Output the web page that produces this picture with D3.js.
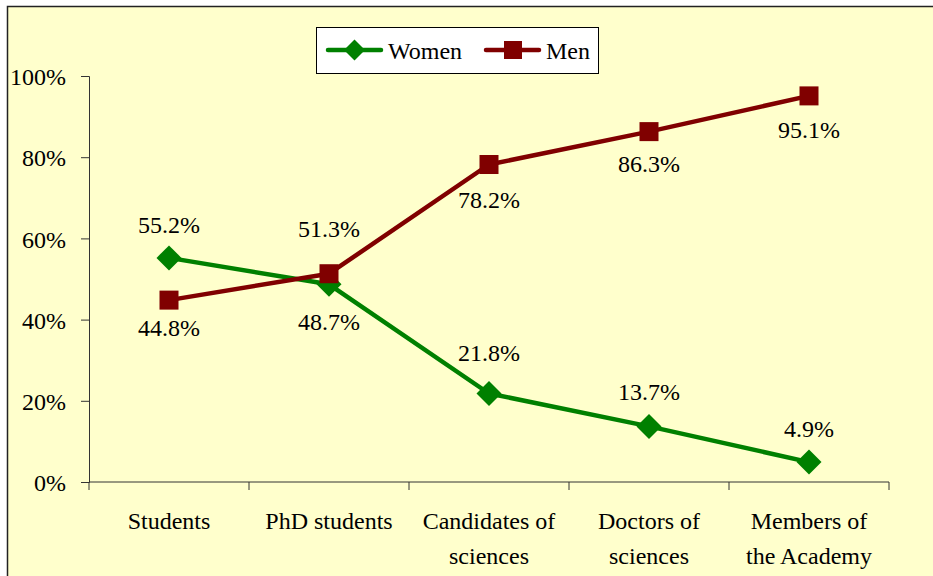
<!DOCTYPE html>
<html>
<head>
<meta charset="utf-8">
<script src="https://cdn.jsdelivr.net/npm/d3@7"></script>
<style>
  svg text, svg tspan { font-family: "Liberation Serif", "Times New Roman", Times, serif !important; font-size: 24px !important; }
</style>
</head>
<body style="margin:0;padding:0;background:#fff">
<svg id="chart" width="933" height="576" style="display:block"></svg>
<script>
// ---- data ----
const categories = [["Students"], ["PhD students"], ["Candidates of", "sciences"], ["Doctors of", "sciences"], ["Members of", "the Academy"]];
const women = [55.2, 48.7, 21.8, 13.7, 4.9];
const men = [44.8, 51.3, 78.2, 86.3, 95.1];
const yTicks = [0, 20, 40, 60, 80, 100];
const seriesNames = ["Women", "Men"];
// label placement (Excel-like): pixel offset of label baseline from the point
const womenLabelDy = [-25, 46, -32, -26, -25];
const menLabelDy = [36, -37, 43, 40, 42];

const svg = d3.select("#chart");
const green = "#008000", maroon = "#800000";
const txt = sel => sel.attr("style", "font-family:'Liberation Serif',serif !important;font-size:24px !important").attr("fill", "#000");

// background with border
svg.append("rect").attr("x", 7.5).attr("y", 6.5).attr("width", 1000).attr("height", 1000)
  .attr("fill", "#FFFFCC").attr("stroke", "#222").attr("stroke-width", 1.5);

const x = d3.scaleBand().domain(d3.range(categories.length)).range([89, 889]);
const y = d3.scaleLinear().domain([0, 100]).range([482, 76]);
const cx = i => x(i) + x.bandwidth() / 2;

// y axis
const yAxis = d3.axisLeft(y).tickValues(yTicks).tickSize(8).tickFormat(d => d + "%");
const gy = svg.append("g").attr("transform", "translate(89,0)").call(yAxis);
gy.attr("font-family", null).attr("font-size", null);
gy.select(".domain").attr("stroke", "#333");
gy.selectAll(".tick line").attr("stroke", "#333");
gy.selectAll(".tick text").attr("x", -23).attr("dy", "0.36em").call(txt);

// x axis: line and ticks at band boundaries
const gx = svg.append("g").attr("transform", "translate(0,482)");
gx.append("line").attr("x1", 89).attr("x2", 889).attr("stroke", "#333");
const bounds = d3.range(categories.length).map(i => x(i)).concat([x(categories.length - 1) + x.bandwidth()]);
gx.selectAll("line.t").data(bounds).join("line").attr("class", "t")
  .attr("x1", d => d).attr("x2", d => d).attr("y1", 0).attr("y2", 8).attr("stroke", "#333");
categories.forEach((lines, i) => {
  lines.forEach((ln, k) => {
    gx.append("text").attr("text-anchor", "middle").attr("x", cx(i)).attr("y", 47 + k * 35).call(txt).text(ln);
  });
});

// lines
const line = d3.line().x((d, i) => cx(i)).y(d => y(d));
svg.append("path").datum(women).attr("d", line).attr("fill", "none")
  .attr("stroke", green).attr("stroke-width", 4.5).attr("stroke-linejoin", "round");
svg.append("path").datum(men).attr("d", line).attr("fill", "none")
  .attr("stroke", maroon).attr("stroke-width", 4.5).attr("stroke-linejoin", "round");

// markers
const diamond = (g, px, py, r) => g.append("path")
  .attr("d", `M${px},${py - r}L${px + r},${py}L${px},${py + r}L${px - r},${py}Z`).attr("fill", green);
const square = (g, px, py, s) => g.append("rect")
  .attr("x", px - s / 2).attr("y", py - s / 2).attr("width", s).attr("height", s).attr("fill", maroon);

women.forEach((v, i) => diamond(svg, cx(i), y(v), 12.5));
men.forEach((v, i) => square(svg, cx(i), y(v), 19));

// data labels
const fmt = v => v.toFixed(1) + "%";
svg.selectAll("text.wl").data(women).join("text").attr("class", "wl")
  .attr("x", (d, i) => cx(i)).attr("y", (d, i) => y(d) + womenLabelDy[i])
  .attr("text-anchor", "middle").call(txt).text(fmt);
svg.selectAll("text.ml").data(men).join("text").attr("class", "ml")
  .attr("x", (d, i) => cx(i)).attr("y", (d, i) => y(d) + menLabelDy[i])
  .attr("text-anchor", "middle").call(txt).text(fmt);

// legend
const lg = svg.append("g");
lg.append("rect").attr("x", 316.5).attr("y", 27.5).attr("width", 282).attr("height", 46)
  .attr("fill", "#fff").attr("stroke", "#000").attr("stroke-width", 1);
lg.append("line").attr("x1", 328).attr("x2", 381).attr("y1", 50).attr("y2", 50)
  .attr("stroke", green).attr("stroke-width", 4.5).attr("stroke-linecap", "round");
diamond(lg, 354.5, 50, 10.5);
lg.append("text").attr("x", 388).attr("y", 59).call(txt).text(seriesNames[0]);
lg.append("line").attr("x1", 486).attr("x2", 539).attr("y1", 50).attr("y2", 50)
  .attr("stroke", maroon).attr("stroke-width", 4.5).attr("stroke-linecap", "round");
square(lg, 513, 50, 18);
lg.append("text").attr("x", 546).attr("y", 59).call(txt).text(seriesNames[1]);
</script>
</body>
</html>
